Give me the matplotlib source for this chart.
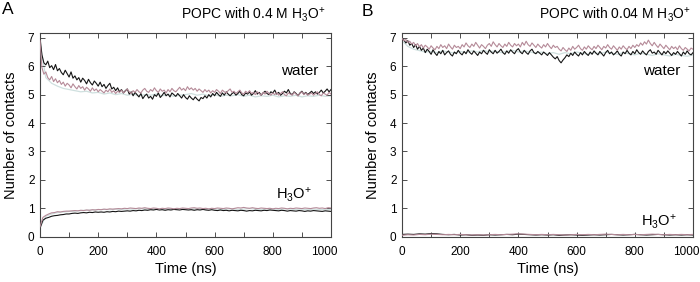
import numpy as np
import matplotlib
matplotlib.use("Agg")
import matplotlib.pyplot as plt
from matplotlib.ticker import MultipleLocator
from matplotlib.transforms import ScaledTranslation

plt.rcParams['font.family'] = ['Liberation Sans', 'DejaVu Sans']
plt.rcParams['mathtext.fontset'] = 'custom'
plt.rcParams['mathtext.rm'] = 'Liberation Sans'
plt.rcParams['mathtext.it'] = 'Liberation Sans'

# ---------------- data (Number of contacts vs time, ns) ----------------
a_water_black = [7.00, 6.40, 6.12, 6.05, 6.18, 5.95, 6.02, 5.88, 6.06, 5.84,
                 5.92, 5.78, 5.70, 5.86, 5.74, 5.62, 5.80, 5.58, 5.66, 5.52,
                 5.60, 5.44, 5.58, 5.50, 5.38, 5.54, 5.42, 5.34, 5.48, 5.40,
                 5.30, 5.44, 5.28, 5.36, 5.22, 5.32, 5.40, 5.20, 5.26, 5.14,
                 5.24, 5.10, 5.18, 5.06, 5.14, 5.20, 5.02, 5.10, 4.96, 5.08,
                 5.00, 4.92, 5.04, 4.86, 4.96, 5.02, 4.88, 4.94, 4.84, 5.00,
                 4.94, 5.06, 4.90, 4.98, 5.08, 4.96, 5.02, 4.92, 5.06, 5.00,
                 4.94, 5.04, 4.96, 4.88, 5.00, 4.90, 4.84, 4.96, 4.88, 4.82,
                 4.92, 4.84, 4.78, 4.90, 4.86, 4.96, 4.88, 5.00, 4.92, 5.04,
                 4.96, 5.08, 5.00, 4.94, 5.06, 4.98, 5.10, 5.02, 4.96, 5.04,
                 5.08, 4.98, 5.04, 5.12, 5.00, 4.96, 5.06, 5.02, 5.10, 4.98,
                 5.04, 5.14, 5.02, 5.08, 4.98, 5.06, 5.12, 5.04, 5.00, 5.10,
                 5.06, 5.16, 5.02, 5.08, 4.98, 5.04, 5.12, 5.06, 5.18, 5.04,
                 5.00, 5.10, 5.04, 4.96, 5.06, 5.12, 5.02, 5.08, 5.00, 5.06,
                 5.12, 5.04, 5.10, 5.02, 5.08, 5.16, 5.06, 5.12, 5.20, 5.10,
                 5.18]
a_water_pink = [6.90, 5.95, 5.72, 5.80, 5.60, 5.52, 5.64, 5.46, 5.56, 5.42,
                5.50, 5.36, 5.44, 5.30, 5.40, 5.34, 5.24, 5.38, 5.28, 5.20,
                5.32, 5.22, 5.28, 5.16, 5.26, 5.20, 5.12, 5.24, 5.14, 5.20,
                5.10, 5.18, 5.12, 5.06, 5.16, 5.10, 5.20, 5.08, 5.14, 5.04,
                5.12, 5.08, 5.16, 5.06, 5.12, 5.20, 5.10, 5.04, 5.14, 5.08,
                5.18, 5.10, 5.06, 5.16, 5.22, 5.12, 5.08, 5.18, 5.12, 5.24,
                5.14, 5.08, 5.20, 5.12, 5.16, 5.06, 5.18, 5.10, 5.22, 5.14,
                5.10, 5.18, 5.26, 5.16, 5.22, 5.14, 5.28, 5.18, 5.24, 5.16,
                5.22, 5.12, 5.20, 5.14, 5.08, 5.18, 5.10, 5.16, 5.06, 5.14,
                5.08, 5.18, 5.12, 5.04, 5.16, 5.10, 5.06, 5.14, 5.20, 5.08,
                5.12, 5.04, 5.10, 5.16, 5.06, 5.02, 5.12, 5.06, 5.14, 5.04,
                5.08, 5.00, 5.10, 5.04, 4.98, 5.08, 5.02, 5.12, 5.04, 4.98,
                5.06, 5.00, 5.08, 4.98, 5.04, 5.10, 5.00, 4.96, 5.06, 5.02,
                4.98, 5.08, 5.02, 4.96, 5.04, 5.10, 5.00, 5.06, 4.98, 5.02,
                5.06, 4.98, 5.04, 5.10, 5.00, 4.96, 5.06, 5.02, 4.98, 5.08,
                5.02]
a_water_light = [6.80, 5.60, 5.40, 5.30, 5.22, 5.18, 5.14, 5.10, 5.12, 5.06, 5.08, 5.02, 5.06, 5.00, 5.04, 4.98, 5.02, 4.96, 5.00, 4.98,
                 5.02, 4.96, 5.00, 4.94, 4.98, 5.00, 5.04, 4.98, 5.02, 4.96, 5.00, 4.94, 4.98, 4.96, 5.00, 4.94, 4.98, 4.92, 4.96, 4.94,
                 4.98, 4.92, 4.96, 4.94, 4.98, 4.92, 4.96, 4.94, 4.98, 4.94, 4.96]

a_ion_black = [0.30, 0.58, 0.65, 0.68, 0.72, 0.74, 0.75, 0.77, 0.78, 0.80, 0.80, 0.82, 0.83, 0.82, 0.84, 0.85, 0.84, 0.86, 0.85, 0.87,
               0.86, 0.87, 0.86, 0.88, 0.87, 0.89, 0.88, 0.90, 0.89, 0.90, 0.91, 0.90, 0.92, 0.91, 0.93, 0.92, 0.94, 0.93, 0.95, 0.94,
               0.96, 0.94, 0.95, 0.93, 0.95, 0.94, 0.96, 0.95, 0.94, 0.96, 0.95, 0.94, 0.95, 0.93, 0.95, 0.94, 0.96, 0.94, 0.93, 0.95,
               0.93, 0.92, 0.94, 0.92, 0.93, 0.91, 0.93, 0.92, 0.91, 0.93, 0.92, 0.90, 0.92, 0.91, 0.93, 0.92, 0.91, 0.93, 0.92, 0.94,
               0.93, 0.92, 0.91, 0.93, 0.92, 0.90, 0.92, 0.91, 0.90, 0.92, 0.91, 0.89, 0.91, 0.90, 0.92, 0.91, 0.90, 0.89, 0.91, 0.90, 0.89]
a_ion_pink = [0.35, 0.68, 0.75, 0.80, 0.84, 0.85, 0.88, 0.87, 0.89, 0.90, 0.90, 0.91, 0.92, 0.91, 0.93, 0.92, 0.94, 0.93, 0.95, 0.94,
              0.96, 0.95, 0.97, 0.96, 0.98, 0.97, 0.98, 0.99, 0.98, 1.00, 0.99, 1.01, 1.00, 0.99, 1.01, 1.00, 1.02, 1.00, 0.99, 1.01,
              1.00, 0.98, 1.00, 0.99, 1.01, 1.00, 0.98, 1.00, 0.99, 1.01, 1.00, 0.99, 1.01, 1.02, 1.00, 1.01, 0.99, 1.00, 0.98, 1.00,
              0.99, 1.01, 1.00, 0.99, 1.01, 1.00, 0.98, 1.00, 1.02, 1.01, 1.03, 1.01, 1.00, 1.02, 1.00, 0.99, 1.01, 1.00, 0.99, 1.00,
              0.98, 1.00, 0.99, 1.01, 1.00, 0.98, 1.00, 0.99, 1.01, 1.00, 0.99, 1.01, 1.00, 0.99, 1.01, 1.02, 1.00, 1.01, 0.99, 1.02, 1.01]
a_ion_light = [0.32, 0.72, 0.80, 0.85, 0.87, 0.89, 0.90, 0.92, 0.93, 0.94, 0.95, 0.96, 0.95, 0.97, 0.96, 0.98, 0.97, 0.99, 0.98, 0.97,
               0.98, 0.96, 0.98, 0.97, 0.99, 0.98, 0.97, 0.98, 0.96, 0.97, 0.98, 0.96, 0.97, 0.98, 0.96, 0.97, 0.99, 0.97, 0.96, 0.98,
               0.97, 0.96, 0.98, 0.97, 0.96, 0.97, 0.95, 0.97, 0.96, 0.95, 0.96]

b_water_black = [7.00, 6.92, 6.82, 6.90, 6.74, 6.80, 6.66, 6.76, 6.60, 6.70,
                 6.56, 6.64, 6.48, 6.60, 6.52, 6.42, 6.58, 6.46, 6.38, 6.52,
                 6.44, 6.56, 6.40, 6.48, 6.54, 6.42, 6.36, 6.50, 6.44, 6.56,
                 6.46, 6.40, 6.52, 6.44, 6.58, 6.48, 6.42, 6.54, 6.46, 6.38,
                 6.50, 6.44, 6.56, 6.48, 6.42, 6.58, 6.50, 6.44, 6.56, 6.46,
                 6.52, 6.60, 6.48, 6.42, 6.54, 6.46, 6.58, 6.50, 6.44, 6.56,
                 6.62, 6.50, 6.44, 6.56, 6.48, 6.42, 6.54, 6.60, 6.48, 6.44,
                 6.52, 6.46, 6.40, 6.50, 6.44, 6.38, 6.48, 6.40, 6.32, 6.26,
                 6.34, 6.20, 6.12, 6.22, 6.30, 6.40, 6.34, 6.46, 6.38, 6.50,
                 6.42, 6.36, 6.48, 6.40, 6.52, 6.44, 6.38, 6.50, 6.42, 6.54,
                 6.46, 6.40, 6.52, 6.44, 6.36, 6.48, 6.56, 6.44, 6.50, 6.40,
                 6.46, 6.54, 6.42, 6.36, 6.50, 6.44, 6.56, 6.46, 6.40, 6.52,
                 6.44, 6.58, 6.48, 6.42, 6.54, 6.46, 6.40, 6.52, 6.58, 6.46,
                 6.50, 6.42, 6.56, 6.48, 6.40, 6.52, 6.44, 6.54, 6.46, 6.38,
                 6.48, 6.42, 6.52, 6.44, 6.36, 6.50, 6.42, 6.54, 6.44, 6.40,
                 6.48]
b_water_pink = [6.98, 6.90, 6.94, 6.84, 6.88, 6.78, 6.84, 6.72, 6.80, 6.68,
                6.76, 6.64, 6.74, 6.68, 6.60, 6.72, 6.64, 6.58, 6.70, 6.62,
                6.76, 6.66, 6.72, 6.62, 6.78, 6.68, 6.60, 6.74, 6.66, 6.70,
                6.62, 6.76, 6.68, 6.82, 6.72, 6.66, 6.78, 6.70, 6.84, 6.74,
                6.64, 6.76, 6.70, 6.62, 6.74, 6.80, 6.70, 6.86, 6.76, 6.68,
                6.80, 6.72, 6.66, 6.78, 6.70, 6.84, 6.74, 6.68, 6.80, 6.72,
                6.78, 6.68, 6.84, 6.74, 6.88, 6.76, 6.70, 6.82, 6.74, 6.66,
                6.78, 6.70, 6.64, 6.76, 6.68, 6.80, 6.70, 6.62, 6.74, 6.66,
                6.70, 6.60, 6.54, 6.66, 6.58, 6.52, 6.64, 6.56, 6.70, 6.60,
                6.66, 6.74, 6.62, 6.56, 6.68, 6.60, 6.72, 6.64, 6.58, 6.70,
                6.62, 6.74, 6.66, 6.58, 6.70, 6.64, 6.76, 6.66, 6.60, 6.72,
                6.64, 6.56, 6.68, 6.60, 6.72, 6.64, 6.58, 6.70, 6.62, 6.74,
                6.66, 6.76, 6.70, 6.82, 6.74, 6.86, 6.78, 6.92, 6.80, 6.72,
                6.84, 6.74, 6.66, 6.78, 6.70, 6.62, 6.74, 6.66, 6.58, 6.70,
                6.62, 6.68, 6.58, 6.72, 6.62, 6.56, 6.66, 6.60, 6.54, 6.64,
                6.60]
b_water_light = [6.90, 6.70, 6.60, 6.55, 6.50, 6.52, 6.48, 6.54, 6.50, 6.46, 6.52, 6.48, 6.54, 6.50, 6.56, 6.50, 6.54, 6.48, 6.52, 6.56,
                 6.50, 6.54, 6.50, 6.46, 6.50, 6.44, 6.48, 6.42, 6.48, 6.44, 6.50, 6.46, 6.42, 6.48, 6.44, 6.50, 6.46, 6.42, 6.48, 6.44,
                 6.40, 6.46, 6.42, 6.38, 6.44, 6.40, 6.36, 6.42, 6.38, 6.35, 6.40]

b_ion_black = [0.08, 0.09, 0.08, 0.10, 0.09, 0.11, 0.10, 0.08, 0.07, 0.08, 0.06, 0.07, 0.05, 0.06, 0.05, 0.07, 0.06, 0.07, 0.08, 0.07,
               0.09, 0.08, 0.07, 0.06, 0.07, 0.06, 0.07, 0.05, 0.06, 0.07, 0.06, 0.05, 0.06, 0.07, 0.06, 0.07, 0.08, 0.07, 0.06, 0.07,
               0.08, 0.07, 0.06, 0.07, 0.08, 0.07, 0.06, 0.07, 0.06, 0.07, 0.06]
b_ion_pink = [0.05, 0.07, 0.06, 0.08, 0.07, 0.09, 0.08, 0.07, 0.08, 0.07, 0.08, 0.07, 0.06, 0.07, 0.06, 0.07, 0.08, 0.07, 0.08, 0.09,
              0.10, 0.09, 0.08, 0.07, 0.08, 0.07, 0.08, 0.07, 0.06, 0.07, 0.08, 0.07, 0.08, 0.07, 0.08, 0.09, 0.08, 0.07, 0.08, 0.07,
              0.08, 0.07, 0.08, 0.09, 0.08, 0.07, 0.08, 0.07, 0.08, 0.07, 0.08]

panel_letters = ["A", "B"]
panel_titles = [r"POPC with 0.4 M H$_3$O$^{+}$", r"POPC with 0.04 M H$_3$O$^{+}$"]
x_label = "Time (ns)"
y_label = "Number of contacts"
water_label = "water"
ion_label = r"H$_3$O$^{+}$"
x_ticks = [0, 200, 400, 600, 800, 1000]

T_MAX = 1000.0

def t_of(v):
    return np.linspace(0, T_MAX, len(v))

C_BLACK = "#141414"
C_PINK = "#b58a98"
C_LIGHT = "#cfe0df"

fig = plt.figure(figsize=(7.0, 2.82), dpi=100)
axA = fig.add_axes([40/700, 1 - 236.7/282, 291/700, 203.7/282])
axB = fig.add_axes([402/700, 1 - 236.7/282, 291/700, 203.7/282])

panels = [
    (axA, [a_water_light, a_ion_light], [a_water_black, a_ion_black], [a_water_pink, a_ion_pink],
     (955, 5.85), (935, 1.48)),
    (axB, [b_water_light], [b_water_black, b_ion_black], [b_water_pink, b_ion_pink],
     (955, 5.85), (945, 0.52)),
]

for i, (ax, lights, blacks, pinks, wpos, ipos) in enumerate(panels):
    for s in lights:
        ax.plot(t_of(s), s, color=C_LIGHT, lw=0.9, zorder=1)
    for s in blacks:
        ax.plot(t_of(s), s, color=C_BLACK, lw=0.8, zorder=2)
    for s in pinks:
        ax.plot(t_of(s), s, color=C_PINK, lw=0.8, zorder=3)
    ax.set_xlim(0, T_MAX)
    ax.set_ylim(0, 7.17)
    ax.set_xticks(x_ticks)
    ax.xaxis.set_minor_locator(MultipleLocator(100))
    ax.yaxis.set_major_locator(MultipleLocator(1))
    ax.tick_params(which='both', direction='in', top=True, right=True, length=3.5,
                   width=0.6, labelsize=8.5, colors='#333333', labelcolor='black')
    ax.tick_params(axis='x', pad=6.5)
    ax.tick_params(axis='y', pad=4)
    for sp in ax.spines.values():
        sp.set_linewidth(0.8)
        sp.set_color('#444444')
    ax.set_xlabel(x_label, fontsize=10.5, labelpad=3)
    ax.set_ylabel(y_label, fontsize=10.5, labelpad=7)
    ax.text(wpos[0], wpos[1], water_label, ha='right', va='center', fontsize=11)
    ax.text(ipos[0], ipos[1], ion_label, ha='right', va='center', fontsize=10.5)
    last = ax.get_xticklabels()[-1]
    last.set_transform(last.get_transform() + ScaledTranslation(-7/100, 0, fig.dpi_scale_trans))

fig.text(2/700, 1 - 9/282, panel_letters[0], fontsize=12.5, ha='left', va='center')
fig.text(362/700, 1 - 11/282, panel_letters[1], fontsize=12.5, ha='left', va='center')
fig.text(325/700, 1 - 15/282, panel_titles[0], fontsize=10, ha='right', va='center')
fig.text(691/700, 1 - 15/282, panel_titles[1], fontsize=10, ha='right', va='center')

fig.savefig("out.png", dpi=100)
